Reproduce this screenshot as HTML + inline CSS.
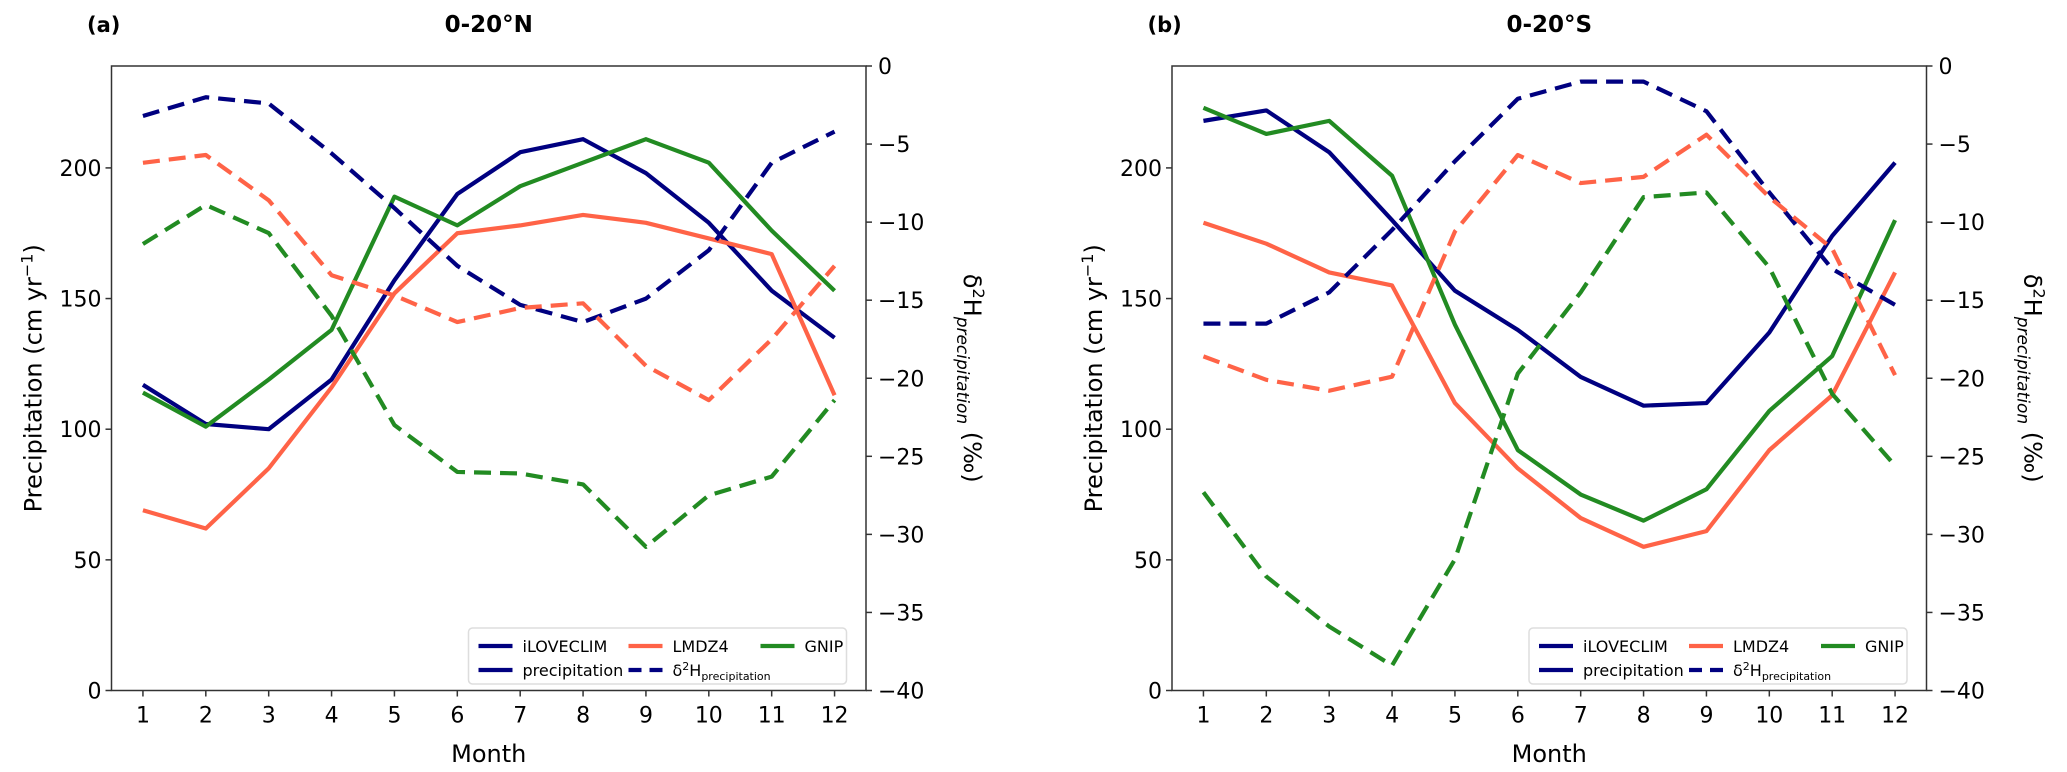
<!DOCTYPE html>
<html><head><meta charset="utf-8"><style>
body{margin:0;background:#fff;}
svg{display:block;font-family:"DejaVu Sans","Liberation Sans",sans-serif;}
</style></head><body>
<svg id="chart" width="2067" height="772" viewBox="0 0 2067 772" xmlns="http://www.w3.org/2000/svg"></svg>
<script>
const months = [1,2,3,4,5,6,7,8,9,10,11,12];
const precipTicks = [0,50,100,150,200];
const isoTicks = [0,-5,-10,-15,-20,-25,-30,-35,-40];
// Panel a (0-20N)
const aIlovePrecip = [117,102,100,119,157,190,206,211,198,179,153,135];
const aLmdzPrecip = [69,62,85,116,152,175,178,182,179,173,167,113];
const aGnipPrecip = [114,101,119,138,189,178,193,202,211,202,176,153];
const aIloveIso = [-3.2,-2.0,-2.4,-5.6,-9.1,-12.8,-15.3,-16.4,-14.9,-11.8,-6.2,-4.2];
const aLmdzIso = [-6.2,-5.7,-8.6,-13.4,-14.7,-16.4,-15.5,-15.2,-19.2,-21.4,-17.5,-12.8];
const aGnipIso = [-11.4,-8.9,-10.7,-16.0,-23.0,-26.0,-26.1,-26.8,-30.8,-27.5,-26.3,-21.4];
// Panel b (0-20S)
const bIlovePrecip = [218,222,206,180,153,138,120,109,110,137,174,202];
const bLmdzPrecip = [179,171,160,155,110,85,66,55,61,92,113,160];
const bGnipPrecip = [223,213,218,197,140,92,75,65,77,107,128,180];
const bIloveIso = [-16.5,-16.5,-14.5,-10.5,-6.1,-2.1,-1.0,-1.0,-2.9,-8.1,-13.0,-15.3];
const bLmdzIso = [-18.6,-20.1,-20.8,-19.9,-10.6,-5.7,-7.5,-7.1,-4.4,-8.4,-11.7,-19.8];
const bGnipIso = [-27.3,-32.7,-35.9,-38.4,-31.6,-19.7,-14.5,-8.4,-8.1,-12.9,-21.0,-25.6];

const NS="http://www.w3.org/2000/svg";
const svg=document.getElementById('chart');
function mk(tag,attrs,parent,text){const e=document.createElementNS(NS,tag);for(const k in attrs)e.setAttribute(k,attrs[k]);if(text!==undefined)e.textContent=text;(parent||svg).appendChild(e);return e;}
const NAVY="#000080",TOM="#ff6347",GRN="#228b22";
const TOP=66,BOT=690.5;

function panel(off,id,label,title,series){
  const L=111.5+off,R=866+off;
  const x=m=>L+(m-0.5)/12*(R-L);
  const yP=v=>BOT-v/239*(BOT-TOP);
  const yI=v=>BOT-(v+40)/40*(BOT-TOP);
  const g=mk('g',{});
  
  
  const t1=mk('text',{x:87+off,y:32,'font-size':21,'font-weight':'bold'},g,label);
  
  const t2=mk('text',{x:(L+R)/2,y:32,'font-size':23,'font-weight':'bold','text-anchor':'middle'},g,title);
  
  series.forEach(s=>{
    const yf=s.iso?yI:yP;
    const pts=months.map((m,i)=>x(m)+','+yf(s.vals[i])).join(' ');
    const a={points:pts,fill:'none',stroke:s.c,'stroke-width':4.2,'stroke-linejoin':'round'};
    if(s.iso)a['stroke-dasharray']='17,9';
    const p=mk('polyline',a,g);
    
    
  });
  const fr=mk('rect',{x:L,y:TOP,width:R-L,height:BOT-TOP,fill:'none',stroke:'#333','stroke-width':1.5},g);
  
  months.forEach(m=>{
    mk('line',{x1:x(m),x2:x(m),y1:BOT,y2:BOT+6,stroke:'#333','stroke-width':1.5},g);
    const t=mk('text',{x:x(m),y:BOT+32,'font-size':22,'text-anchor':'middle'},g,String(m));
    
  });
  precipTicks.forEach(v=>{
    mk('line',{x1:L-6,x2:L,y1:yP(v),y2:yP(v),stroke:'#333','stroke-width':1.5},g);
    const t=mk('text',{x:L-10,y:yP(v)+8,'font-size':22,'text-anchor':'end'},g,String(v));
    
  });
  isoTicks.forEach(v=>{
    mk('line',{x1:R,x2:R+6,y1:yI(v),y2:yI(v),stroke:'#333','stroke-width':1.5},g);
    const t=mk('text',{x:R+12,y:yI(v)+8,'font-size':22},g,String(v).replace('-','\u2212'));
    
  });
  const xl=mk('text',{x:(L+R)/2,y:762,'font-size':24,'text-anchor':'middle'},g,'Month');
  
  const yl=mk('text',{transform:`translate(${L-70},${(TOP+BOT)/2}) rotate(-90)`,'font-size':24,'text-anchor':'middle'},g);
  
  yl.innerHTML='Precipitation (cm yr<tspan dy="-9" font-size="16">\u22121</tspan><tspan dy="9">)</tspan>';
  const yr=mk('text',{transform:`translate(${R+98},${(TOP+BOT)/2}) rotate(90)`,'font-size':24,'text-anchor':'middle'},g);
  
  yr.innerHTML='\u03b4<tspan dy="-9" font-size="16">2</tspan><tspan dy="9">H</tspan><tspan dy="7" font-size="17" font-style="italic">precipitation</tspan><tspan dy="-7"> (\u2030)</tspan>';
  const lx=L+357,ly=628,lw=378,lh=56;
  const lg=mk('g',{},g);
  
  mk('rect',{x:lx,y:ly,width:lw,height:lh,rx:4,fill:'#fff',stroke:'#ddd','stroke-width':1.5},lg);
  const ents=[[NAVY,'iLOVECLIM',0,0,false],[TOM,'LMDZ4',150,0,false],[GRN,'GNIP',282,0,false],[NAVY,'precipitation',0,1,false],[NAVY,'',150,1,true]];
  ents.forEach(e=>{
    const ex=lx+10+e[2],ey=ly+18+e[3]*24;
    const a={x1:ex,x2:ex+34,y1:ey,y2:ey,stroke:e[0],'stroke-width':4.2};
    if(e[4])a['stroke-dasharray']='13,8';
    mk('line',a,lg);
    const t=mk('text',{x:ex+44,y:ey+6,'font-size':16},lg);
    
    if(e[4])t.innerHTML='\u03b4<tspan dy="-6" font-size="11">2</tspan><tspan dy="6">H</tspan><tspan dy="4" font-size="11">precipitation</tspan>';
    else t.textContent=e[1];
  });
}
panel(0,'a','(a)','0-20°N',[
  {name:'iloveclim-precip',vals:aIlovePrecip,c:NAVY},{name:'lmdz4-precip',vals:aLmdzPrecip,c:TOM},{name:'gnip-precip',vals:aGnipPrecip,c:GRN},
  {name:'iloveclim-d2h',vals:aIloveIso,c:NAVY,iso:1},{name:'lmdz4-d2h',vals:aLmdzIso,c:TOM,iso:1},{name:'gnip-d2h',vals:aGnipIso,c:GRN,iso:1}]);
panel(1060.5,'b','(b)','0-20°S',[
  {name:'iloveclim-precip',vals:bIlovePrecip,c:NAVY},{name:'lmdz4-precip',vals:bLmdzPrecip,c:TOM},{name:'gnip-precip',vals:bGnipPrecip,c:GRN},
  {name:'iloveclim-d2h',vals:bIloveIso,c:NAVY,iso:1},{name:'lmdz4-d2h',vals:bLmdzIso,c:TOM,iso:1},{name:'gnip-d2h',vals:bGnipIso,c:GRN,iso:1}]);
</script>
</body></html>
